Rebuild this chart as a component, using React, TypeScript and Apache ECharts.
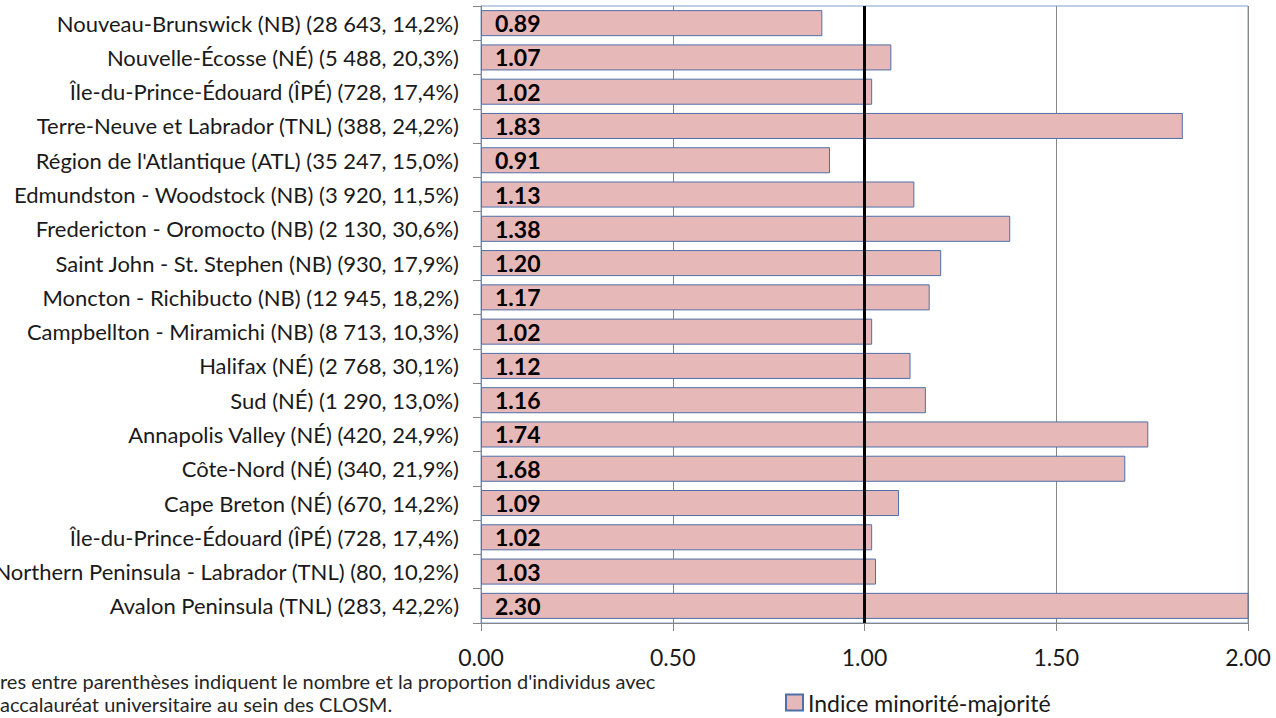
import React, { useEffect, useRef } from "react";
import * as echarts from "echarts";

const categories = [
  "Nouveau-Brunswick (NB) (28 643, 14,2%)",
  "Nouvelle-Écosse (NÉ) (5 488, 20,3%)",
  "Île-du-Prince-Édouard (ÎPÉ) (728, 17,4%)",
  "Terre-Neuve et Labrador (TNL) (388, 24,2%)",
  "Région de l'Atlantique (ATL) (35 247, 15,0%)",
  "Edmundston - Woodstock (NB) (3 920, 11,5%)",
  "Fredericton - Oromocto (NB) (2 130, 30,6%)",
  "Saint John - St. Stephen (NB) (930, 17,9%)",
  "Moncton - Richibucto (NB) (12 945, 18,2%)",
  "Campbellton - Miramichi (NB) (8 713, 10,3%)",
  "Halifax (NÉ) (2 768, 30,1%)",
  "Sud (NÉ) (1 290, 13,0%)",
  "Annapolis Valley (NÉ) (420, 24,9%)",
  "Côte-Nord (NÉ) (340, 21,9%)",
  "Cape Breton (NÉ) (670, 14,2%)",
  "Île-du-Prince-Édouard (ÎPÉ) (728, 17,4%)",
  "Northern Peninsula - Labrador (TNL) (80, 10,2%)",
  "Avalon Peninsula (TNL) (283, 42,2%)",
];

const values = [
  0.89, 1.07, 1.02, 1.83, 0.91, 1.13, 1.38, 1.2, 1.17, 1.02, 1.12, 1.16, 1.74,
  1.68, 1.09, 1.02, 1.03, 2.3,
];

const seriesName = "Indice minorité-majorité";
const referenceValue = 1;
const footnoteLines = [
  "res entre parenthèses indiquent le nombre et la proportion d'individus avec",
  "accalauréat universitaire au sein des CLOSM.",
];

const FONT = "Lato, 'Open Sans', sans-serif";

export default function App() {
  const ref = useRef<HTMLDivElement>(null);
  useEffect(() => {
    if (!ref.current) return;
    const chart = echarts.init(ref.current, null, { renderer: "svg" });
    chart.setOption({
      animation: false,
      backgroundColor: "#ffffff",
      grid: {
        left: 481,
        right: 28,
        top: 6,
        bottom: 95,
        containLabel: false,
        outerBoundsMode: "none",
        show: true,
        borderColor: "#7f9fcf",
        borderWidth: 1,
      },
      xAxis: {
        type: "value",
        min: 0,
        max: 2,
        interval: 0.5,
        axisLabel: {
          formatter: (v: number) => v.toFixed(2),
          fontFamily: FONT,
          fontSize: 23,
          color: "#1a1a1a",
          margin: 22,
        },
        axisLine: { show: true, lineStyle: { color: "#868686", width: 1 } },
        axisTick: { show: true, length: 8, lineStyle: { color: "#868686" } },
        splitLine: { show: true, lineStyle: { color: "#868686", width: 1 } },
      },
      yAxis: {
        type: "category",
        data: categories,
        inverse: true,
        axisLabel: {
          fontFamily: FONT,
          fontSize: 22,
          color: "#1a1a1a",
          margin: 22,
        },
        axisLine: { show: true, lineStyle: { color: "#868686", width: 1 } },
        axisTick: { show: true, length: 8, lineStyle: { color: "#868686" } },
        splitLine: { show: false },
      },
      legend: {
        show: true,
        left: 780,
        top: 686,
        icon: "rect",
        itemWidth: 17,
        itemHeight: 16,
        itemGap: 6,
        textStyle: { fontFamily: FONT, fontSize: 23, color: "#1a1a1a" },
        data: [seriesName],
      },
      series: [
        {
          name: seriesName,
          type: "bar",
          data: values,
          barCategoryGap: "24%",
          clip: true,
          itemStyle: {
            color: "#e6b8b7",
            borderColor: "#4f6fa8",
            borderWidth: 1,
          },
          label: {
            show: true,
            position: "insideLeft",
            distance: 14,
            formatter: (p: any) => Number(p.value).toFixed(2),
            fontFamily: FONT,
            fontWeight: "bold",
            fontSize: 23,
            color: "#000000",
          },
          markLine: {
            silent: true,
            symbol: "none",
            label: { show: false },
            lineStyle: { color: "#000000", width: 3, type: "solid" },
            data: [{ xAxis: referenceValue }],
          },
        },
      ],
      graphic: [
        {
          type: "text",
          left: 0,
          top: 671,
          style: {
            text: footnoteLines[0],
            fontFamily: FONT,
            fontSize: 20,
            fill: "#262626",
          },
        },
        {
          type: "text",
          left: 0,
          top: 694,
          style: {
            text: footnoteLines[1],
            fontFamily: FONT,
            fontSize: 20,
            fill: "#262626",
          },
        },
      ],
    });
    return () => chart.dispose();
  }, []);
  return <div ref={ref} style={{ width: 1276, height: 718, position: "absolute", left: 0, top: 0 }} />;
}
